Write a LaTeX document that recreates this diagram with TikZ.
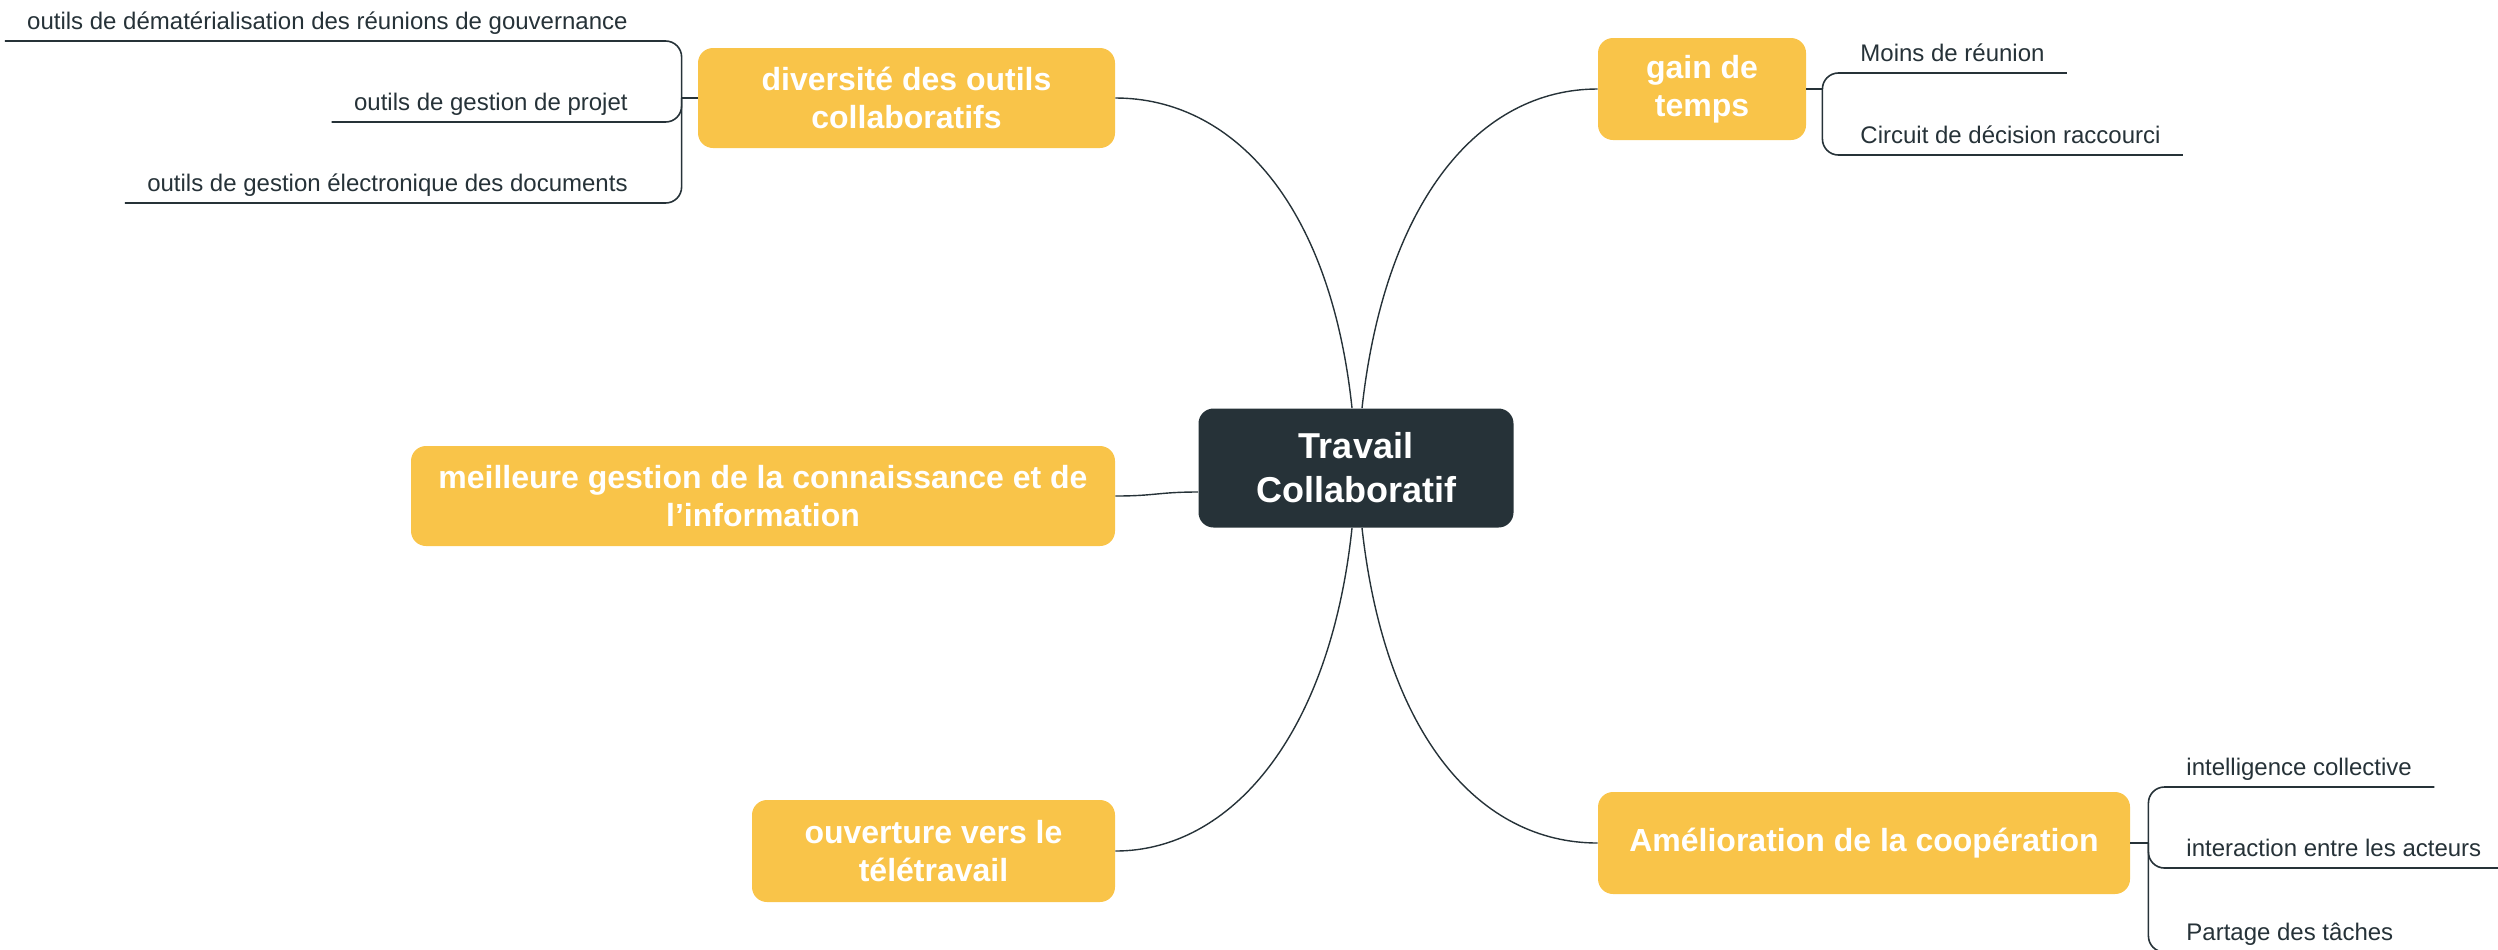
\documentclass[tikz,border=0pt]{standalone}
\usepackage{fontspec}
\setmainfont{Liberation Sans}
\usetikzlibrary{positioning, calc}
\definecolor{ardoise}{HTML}{263238}
\definecolor{jaune}{HTML}{F9C449}

\tikzset{
  racine/.style={fill=ardoise, rounded corners=7.5pt, text=white, align=center,
    font=\fontsize{18}{22}\selectfont\bfseries, inner sep=0pt},
  theme/.style={fill=jaune, rounded corners=7.5pt, text=white, align=center,
    font=\fontsize{16}{19}\selectfont\bfseries, inner sep=0pt},
  feuille/.style={text=ardoise, font=\fontsize{12}{14}\selectfont, inner xsep=11pt,
    inner ysep=3pt, text height=9pt, text depth=2.5pt},
  lien/.style={draw=ardoise, line width=0.7pt},
  branche/.style={draw=ardoise, line width=0.8pt, rounded corners=8pt}
}

\begin{document}
\begin{tikzpicture}[x=0.5pt, y=-0.5pt]
  \clip (0,0) rectangle (2498,949);

  % noeud central
  \node[racine, minimum width=157.5pt, minimum height=59.5pt] (travail) at (1356,468) {Travail\\Collaboratif};

  % themes
  \node[theme, minimum width=208.5pt, minimum height=50pt] (diversite) at (906.5,98) {diversité des outils\\collaboratifs};
  \node[theme, minimum width=104pt, minimum height=51pt] (gain) at (1702,89) {gain de\\temps};
  \node[theme, minimum width=352pt, minimum height=50pt] (gestion) at (763,496) {meilleure gestion de la connaissance et de\\l’information};
  \node[theme, minimum width=181.5pt, minimum height=51pt] (ouverture) at (933.5,851) {ouverture vers le\\télétravail};
  \node[theme, minimum width=266pt, minimum height=51pt] (cooperation) at (1864,843) {Amélioration de la coopération};

  \draw[lien] ([xshift=-2pt]travail.north) .. controls +(-22,-208) and +(115,0) .. (diversite.east);
  \draw[lien] ([xshift=3pt]travail.north) .. controls +(23,-208) and +(-118,0) .. (gain.west);
  \draw[lien] ([yshift=-12pt]travail.west) .. controls +(-40,0) and +(40,0) .. (gestion.east);
  \draw[lien] ([xshift=-2pt]travail.south) .. controls +(-22,208) and +(115,0) .. (ouverture.east);
  \draw[lien] ([xshift=3pt]travail.south) .. controls +(23,208) and +(-118,0) .. (cooperation.west);

  % feuilles de diversite
  \coordinate (jdiv) at ([xshift=-8pt]diversite.west);
  \node[feuille, anchor=south east] (demat) at (650,41) {outils de dématérialisation des réunions de gouvernance};
  \node[feuille, anchor=south east] (projet) at (650,122) {outils de gestion de projet};
  \node[feuille, anchor=south east] (ged) at (650,203) {outils de gestion électronique des documents};
  \draw[branche] (diversite.west) -- (jdiv);
  \foreach \f in {demat, projet, ged}
    \draw[branche] (jdiv) |- (\f.south west);

  % feuilles de gain
  \coordinate (jgain) at ([xshift=8pt]gain.east);
  \node[feuille, anchor=south west] (moins) at (1838,73) {Moins de réunion};
  \node[feuille, anchor=south west] (circuit) at (1838,155) {Circuit de décision raccourci};
  \draw[branche] (gain.east) -- (jgain);
  \foreach \f in {moins, circuit}
    \draw[branche] (jgain) |- (\f.south east);

  % feuilles de cooperation
  \coordinate (jcoop) at ([xshift=9pt]cooperation.east);
  \node[feuille, anchor=south west] (intel) at (2164,787) {intelligence collective};
  \node[feuille, anchor=south west] (acteurs) at (2164,868) {interaction entre les acteurs};
  \node[feuille, anchor=south west] (partage) at (2164,952) {Partage des tâches};
  \draw[branche] (cooperation.east) -- (jcoop);
  \foreach \f in {intel, acteurs, partage}
    \draw[branche] (jcoop) |- (\f.south east);
\end{tikzpicture}
\end{document}
